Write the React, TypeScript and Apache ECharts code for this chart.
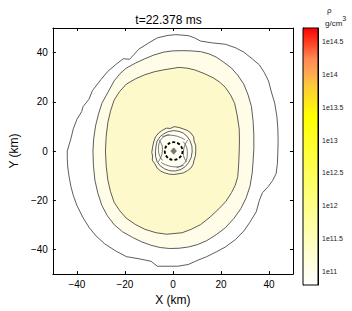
import React, { useEffect, useRef } from "react";
import * as echarts from "echarts";

const TITLE = "t=22.378 ms";
const X_TICKS = [-40, -20, 0, 20, 40];
const Y_TICKS = [-40, -20, 0, 20, 40];
const CB_TICKS = [11, 11.5, 12, 12.5, 13, 13.5, 14, 14.5];
const CB_MIN = 10.8;
const CB_MAX = 14.7;
const CB_STOP_VALUES = [10.8, 13.37, 13.84, 14.0, 14.23, 14.44, 14.7];
const CB_STOP_COLORS = ["#ffffff", "#ffff00", "#ffc83a", "#ffaa50", "#ff8a55", "#ff4a2a", "#ff0000"];

// contour polygons (km)
const C1 = [[-44,0],[-42.5,5],[-41.5,9],[-40,12.9],[-38,16],[-37.4,18.1],[-35,21],[-33.5,24.6],[-30,29],[-27.1,32.4],[-24,35],[-20.7,37.5],[-18,37.3],[-14.2,41.4],[-10,44],[-6.5,46],[-2,47],[1.2,47.3],[6.4,46.9],[9,46],[11.5,44.7],[16,44],[21.8,43.4],[26,42],[29.5,40.2],[33,37.5],[36,35],[38,32],[39.8,28.5],[41,24],[42.4,19.4],[43.3,14],[43.7,9],[43.8,4],[43.7,0],[43.5,-5],[43,-9.1],[41.5,-12],[39.8,-14.3],[37.3,-16.9],[36,-20],[34.7,-24.7],[32,-29],[29.5,-32.5],[26,-36],[21.8,-39],[18,-41],[14.1,-42.9],[10,-44.5],[6.4,-46.1],[2,-46.8],[-1.4,-46.8],[-6.5,-46.8],[-9.1,-44.8],[-14,-43.8],[-19.4,-42.9],[-24,-40.5],[-28.4,-37.7],[-32,-34.5],[-34.8,-31.2],[-37.5,-27],[-40,-22.1],[-41.5,-18],[-42.5,-14.3],[-43.3,-10],[-43.8,-6.5],[-44,-3]];
const C2 = [[-33.3,0],[-33,5],[-32.2,10.3],[-31,15],[-29.6,19.4],[-27,24],[-24.5,28.5],[-22,31.5],[-19.4,33.7],[-15.5,35.8],[-11.7,37.5],[-8,39],[-3.9,40.2],[0,40.7],[3.8,40.8],[7.5,40.7],[11.5,40.4],[15,39.5],[18,38.2],[21,36.2],[24.4,33.7],[27,30.8],[29.5,27.2],[31.3,22.8],[32.7,18.1],[33.4,12],[33.7,6.4],[33.7,1],[33.4,-4],[33,-9],[32.1,-14.3],[30.5,-19],[28.3,-23.4],[25.3,-27.5],[21.8,-31.2],[18,-34],[14.1,-36.4],[10.3,-38],[6.4,-39],[2.5,-39.5],[-1.4,-39.6],[-5.3,-39.2],[-9.1,-38.3],[-13,-36.9],[-16.8,-35.1],[-21,-32.8],[-24.5,-29.9],[-27.3,-26.3],[-29.6,-22.1],[-31.3,-17],[-32.5,-11.8],[-33.1,-6]];
const C3 = [[-28.1,0],[-27.8,6],[-27.1,11.6],[-26,16.2],[-24.5,20.7],[-22.2,24.2],[-19.4,27.2],[-15.7,29.3],[-11.7,31],[-7.8,32.2],[-3.9,33],[0,33.6],[2.5,34],[5.8,33.7],[9,33],[13,31.5],[16.7,29.8],[19.5,28],[21.8,25.9],[24,22.8],[25.7,19.4],[26.8,14.3],[27.6,9],[27.7,4.5],[27.6,0],[27.4,-5],[27,-10.4],[25.9,-14],[24.4,-16.9],[22,-20.5],[19.2,-23.4],[15.5,-26.8],[11.5,-29.9],[7.6,-31.8],[3.8,-33.2],[-2.6,-33.8],[-7,-33.2],[-11.7,-31.8],[-15.7,-29.8],[-19.4,-27.3],[-22.2,-24.2],[-24.5,-20.8],[-26,-16.5],[-27.1,-11.8],[-27.8,-6]];
const F1 = [[-8.8,-0.5],[-8.4,2],[-7.9,4.1],[-7.2,5.8],[-6,7.3],[-4.6,8.3],[-2.8,9.3],[-1,9.2],[0.5,9.9],[2.5,9.6],[4.3,9],[6,8.4],[7.5,7.3],[8.6,5.8],[8.8,4.1],[9.5,2.2],[9.5,0.2],[9.4,-1.8],[8.8,-3.7],[8.4,-5.4],[7.5,-6.9],[6,-8],[4.3,-8.9],[2.5,-9.2],[0.5,-9.5],[-1.5,-9.4],[-3.4,-8.9],[-5,-8.2],[-6.6,-6.9],[-7.5,-5.2],[-8.6,-3.7],[-8.5,-2]];
const F2 = [[-7.3,-0.3],[-7,2.2],[-6.6,4],[-5.3,5.9],[-3.8,7],[-2,7.9],[0.3,8.3],[2.5,8],[4.3,7.3],[5.9,6],[7.1,4.2],[7.9,2],[8,-0.3],[7.6,-2.6],[6.6,-4.6],[5.2,-6.3],[3.3,-7.5],[1,-8.1],[-1.3,-8],[-3.4,-7.3],[-5.3,-6],[-6.6,-4.3],[-7.2,-2.3]];
const ARMS = [
  [[-1.5,6.8],[-3.8,5.8],[-5.5,3.8],[-6,1],[-5.6,-1.8],[-4.3,-3.8]],
  [[-5.8,4.5],[-4.6,2.5],[-4.4,0],[-5,-2.5],[-6.2,-4.5]],
  [[1.5,-6.8],[3.8,-5.8],[5.5,-3.8],[6,-1],[5.6,1.8],[4.3,3.8]],
  [[5.8,-4.5],[4.6,-2.5],[4.4,0],[5,2.5],[6.2,4.5]],
  [[-4.5,5.8],[-2,6.4],[0.5,6.3],[3,5.6],[5,4.6]],
  [[4.5,-5.8],[2,-6.4],[-0.5,-6.3],[-3,-5.6],[-5,-4.6]],
];
const CORE_CENTER = [0.3, 0];
const CORE_RADIUS = 3.7;
const DIAMOND = [[0.3,1.3],[1.5,0],[0.3,-1.3],[-0.9,0]];

const POLYS = [
  { pts: C1, fill: "#ffffff" },
  { pts: C2, fill: "#fffde7" },
  { pts: C3, fill: "#fdf9ca" },
  { pts: F1, fill: "#fefce6" },
  { pts: F2, fill: "#fffff3" },
];

const FONT = "Liberation Sans, Arial, sans-serif";
const minus = (v: number) => String(v).replace("-", "\u2212");

export default function App() {
  const ref = useRef<HTMLDivElement>(null);
  useEffect(() => {
    if (!ref.current) return;
    const chart = echarts.init(ref.current, null, { renderer: "svg" });
    const axisLine = { show: true, onZero: false, lineStyle: { color: "#000", width: 1 } };
    const tick = (vals: number[]) => ({ show: true, inside: true, length: 3, customValues: vals, lineStyle: { color: "#000" } });
    const span = CB_MAX - CB_MIN;
    const stops = CB_STOP_VALUES.map((v, i) => ({ offset: (CB_MAX - v) / span, color: CB_STOP_COLORS[i] })).reverse();

    const contourItems = POLYS.map((_, i) => [i, 0]);
    const armItems = ARMS.map((_, i) => [i, 0]);

    chart.setOption({
      animation: false,
      backgroundColor: "#fff",
      title: {
        text: TITLE,
        left: 163.5,
        top: 9,
        textAlign: "center",
        textStyle: { fontFamily: FONT, fontSize: 12, fontWeight: "normal", color: "#000" },
      },
      grid: [
        { left: 34, right: 59, top: 28, bottom: 26 },
        { left: 303, width: 15, top: 28, bottom: 26 },
      ],
      xAxis: [
        {
          gridIndex: 0, type: "value", min: -50, max: 50, position: "bottom",
          axisLine, axisTick: tick(X_TICKS), splitLine: { show: false },
          axisLabel: { customValues: X_TICKS, formatter: minus, fontFamily: FONT, fontSize: 10, color: "#000", margin: 5 },
          name: "X (km)", nameLocation: "middle", nameGap: 16,
          nameTextStyle: { fontFamily: FONT, fontSize: 12, color: "#000" },
        },
        {
          gridIndex: 0, type: "value", min: -50, max: 50, position: "top",
          axisLine, axisTick: tick(X_TICKS), splitLine: { show: false }, axisLabel: { show: false },
        },
        { gridIndex: 1, type: "value", min: 0, max: 1, show: false },
      ],
      yAxis: [
        {
          gridIndex: 0, type: "value", min: -50, max: 50, position: "left",
          axisLine, axisTick: tick(Y_TICKS), splitLine: { show: false },
          axisLabel: { customValues: Y_TICKS, formatter: minus, fontFamily: FONT, fontSize: 10, color: "#000", margin: 5 },
          name: "Y (km)", nameLocation: "middle", nameGap: 21, nameRotate: 90,
          nameTextStyle: { fontFamily: FONT, fontSize: 12, color: "#000" },
        },
        {
          gridIndex: 0, type: "value", min: -50, max: 50, position: "right",
          axisLine, axisTick: tick(Y_TICKS), splitLine: { show: false }, axisLabel: { show: false },
        },
        {
          gridIndex: 1, type: "value", min: CB_MIN, max: CB_MAX, position: "right",
          axisLine, axisTick: { show: true, inside: true, length: 2, customValues: CB_TICKS, lineStyle: { color: "#000" } },
          splitLine: { show: false },
          axisLabel: { customValues: CB_TICKS, formatter: (v: number) => "1e" + v, fontFamily: FONT, fontSize: 7, color: "#222", margin: 4 },
        },
        {
          gridIndex: 1, type: "value", min: CB_MIN, max: CB_MAX, position: "left",
          axisLine, axisTick: { show: true, inside: true, length: 2, customValues: CB_TICKS, lineStyle: { color: "#000" } },
          splitLine: { show: false }, axisLabel: { show: false },
        },
      ],
      series: [
        {
          type: "custom", xAxisIndex: 0, yAxisIndex: 0, clip: true,
          data: contourItems,
          renderItem: (params: any, api: any) => {
            const p = POLYS[api.value(0)];
            return {
              type: "polygon", z2: api.value(0),
              shape: { points: p.pts.map((q) => api.coord(q)) },
              style: { fill: p.fill, stroke: "#333", lineWidth: 0.8 },
            };
          },
        },
        {
          type: "custom", xAxisIndex: 0, yAxisIndex: 0, clip: true, z: 3,
          data: armItems,
          renderItem: (params: any, api: any) => {
            const a = ARMS[api.value(0)];
            return {
              type: "polyline",
              shape: { points: a.map((q) => api.coord(q)), smooth: 0.4 },
              style: { fill: null, stroke: "#555", lineWidth: 0.8 },
            };
          },
        },
        {
          type: "custom", xAxisIndex: 0, yAxisIndex: 0, clip: true, z: 4,
          data: [[CORE_CENTER[0], CORE_CENTER[1]]],
          renderItem: (params: any, api: any) => {
            const c = api.coord([api.value(0), api.value(1)]);
            const r = api.size([CORE_RADIUS, 0])[0];
            return {
              type: "group",
              children: [
                { type: "circle", shape: { cx: c[0], cy: c[1], r }, style: { fill: null, stroke: "#000", lineWidth: 1.8, lineDash: [3, 2] } },
                { type: "polygon", shape: { points: DIAMOND.map((q) => api.coord(q)) }, style: { fill: "#7a7a6a", stroke: "#555", lineWidth: 0.5 } },
              ],
            };
          },
        },
        {
          type: "custom", xAxisIndex: 2, yAxisIndex: 2, clip: false,
          data: [[0, CB_MIN]],
          renderItem: (params: any, api: any) => {
            const tl = api.coord([0, CB_MAX]);
            const br = api.coord([1, CB_MIN]);
            return {
              type: "rect",
              shape: { x: tl[0], y: tl[1], width: br[0] - tl[0], height: br[1] - tl[1] },
              style: { fill: new echarts.graphic.LinearGradient(0, 0, 0, 1, stops), stroke: "#000", lineWidth: 1 },
            };
          },
        },
      ],
      graphic: [
        { type: "text", left: 327, top: 6, style: { text: "ρ", font: "8px " + FONT, fill: "#222" } },
        {
          type: "text", left: 325, top: 15,
          style: {
            text: "{a|g/cm}{b|3}",
            rich: {
              a: { fontFamily: FONT, fontSize: 8, fill: "#222", verticalAlign: "bottom" },
              b: { fontFamily: FONT, fontSize: 7, fill: "#222", verticalAlign: "top", padding: [0, 0, 5, 0] },
            },
          },
        },
      ],
    });
    return () => chart.dispose();
  }, []);
  return <div ref={ref} style={{ width: 352, height: 311, position: "absolute", left: 0, top: 0 }} />;
}
